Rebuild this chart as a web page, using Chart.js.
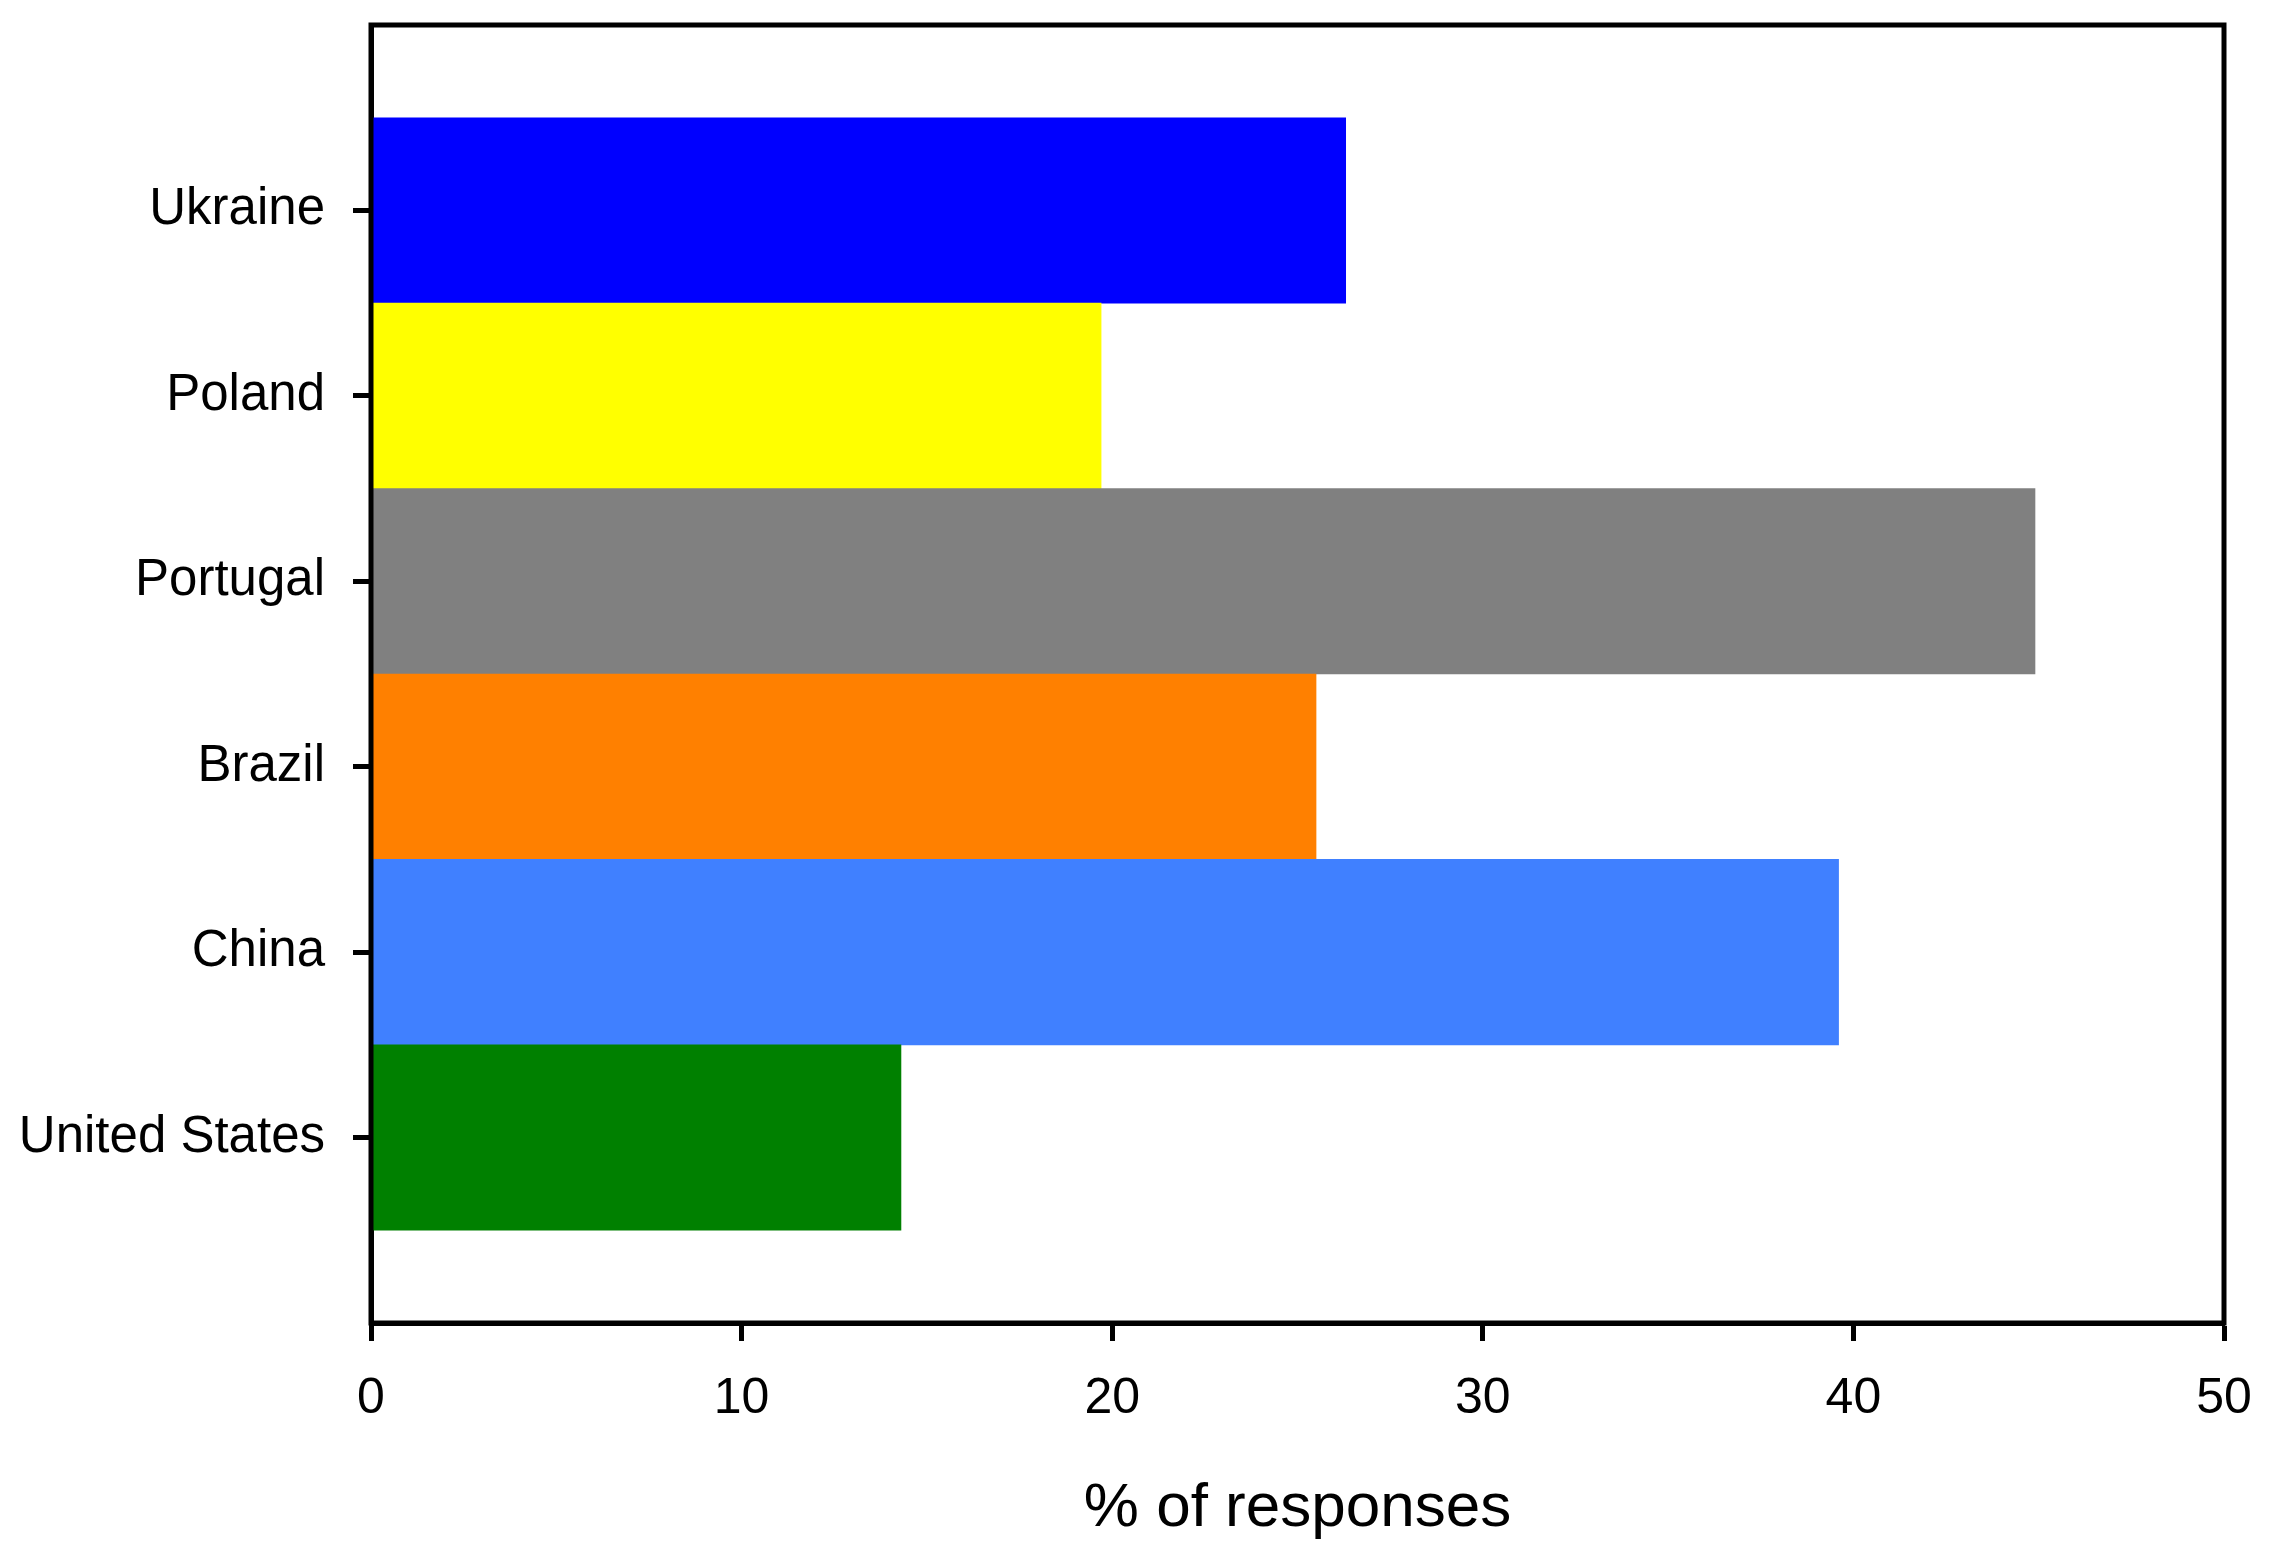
<!DOCTYPE html>
<html>
<head>
<meta charset="utf-8">
<script src="https://cdn.jsdelivr.net/npm/chart.js@4.4.1/dist/chart.umd.min.js"></script>
<style>
  html, body { margin: 0; padding: 0; background: #fff; }
  #wrap { width: 2272px; height: 1556px; }
</style>
</head>
<body>
<div id="wrap"><canvas id="grafico" width="2272" height="1556"></canvas></div>
<script>
// datos
const paises = ['Ukraine', 'Poland', 'Portugal', 'Brazil', 'China', 'United States'];
const porcentajes = [26.3, 19.7, 44.9, 25.5, 39.6, 14.3];
const colores = ['#0000ff', '#ffff00', '#808080', '#ff8000', '#4080ff', '#008000'];
const ticksX = [0, 10, 20, 30, 40, 50];

// un hueco vacio arriba y abajo, como en el original
const etiquetas = [''].concat(paises, ['']);
const valores = [null].concat(porcentajes, [null]);
const fondos = ['#fff'].concat(colores, ['#fff']);

const fuente = "'Liberation Sans', Arial, sans-serif";
const grosor = 5;

// marco completo alrededor del area del grafico
const marco = {
    id: 'marco',
    afterDraw(chart) {
        const a = chart.chartArea;
        const ctx = chart.ctx;
        ctx.save();
        ctx.strokeStyle = '#000';
        ctx.lineWidth = grosor;
        ctx.strokeRect(a.left, a.top, a.right - a.left, a.bottom - a.top);
        ctx.restore();
    }
};

new Chart(document.getElementById('grafico'), {
    type: 'bar',
    data: {
        labels: etiquetas,
        datasets: [{
            data: valores,
            backgroundColor: fondos,
            borderWidth: 0,
            barPercentage: 1,
            categoryPercentage: 1
        }]
    },
    options: {
        indexAxis: 'y',
        responsive: false,
        devicePixelRatio: 1,
        animation: false,
        layout: { padding: { top: 25, right: 48, bottom: 6, left: 0 } },
        plugins: { legend: { display: false }, tooltip: { enabled: false } },
        scales: {
            x: {
                min: 0,
                max: 50,
                afterBuildTicks: (s) => { s.ticks = ticksX.map(v => ({ value: v })); },
                afterFit: (s) => { s.height = 227; s.paddingLeft = 0; s.paddingRight = 0; },
                grid: { drawOnChartArea: false, tickLength: 18, tickWidth: grosor, tickColor: '#000' },
                border: { display: true, color: '#000', width: grosor },
                ticks: { color: '#000', padding: 28, maxRotation: 0, font: { family: fuente, size: 50 } },
                title: {
                    display: true,
                    text: '% of responses',
                    color: '#000',
                    font: { family: fuente, size: 62 }
                }
            },
            y: {
                offset: false,
                afterFit: (s) => { s.width = 371; s.paddingTop = 0; s.paddingBottom = 0; },
                grid: {
                    offset: false,
                    drawOnChartArea: false,
                    tickLength: 18,
                    tickWidth: grosor,
                    tickColor: (c) => (c.index === 0 || c.index === etiquetas.length - 1) ? 'rgba(0,0,0,0)' : '#000'
                },
                border: { display: true, color: '#000', width: grosor },
                ticks: { color: '#000', padding: 28, autoSkip: false, font: { family: fuente, size: 51 } }
            }
        }
    },
    plugins: [marco]
});
</script>
</body>
</html>
